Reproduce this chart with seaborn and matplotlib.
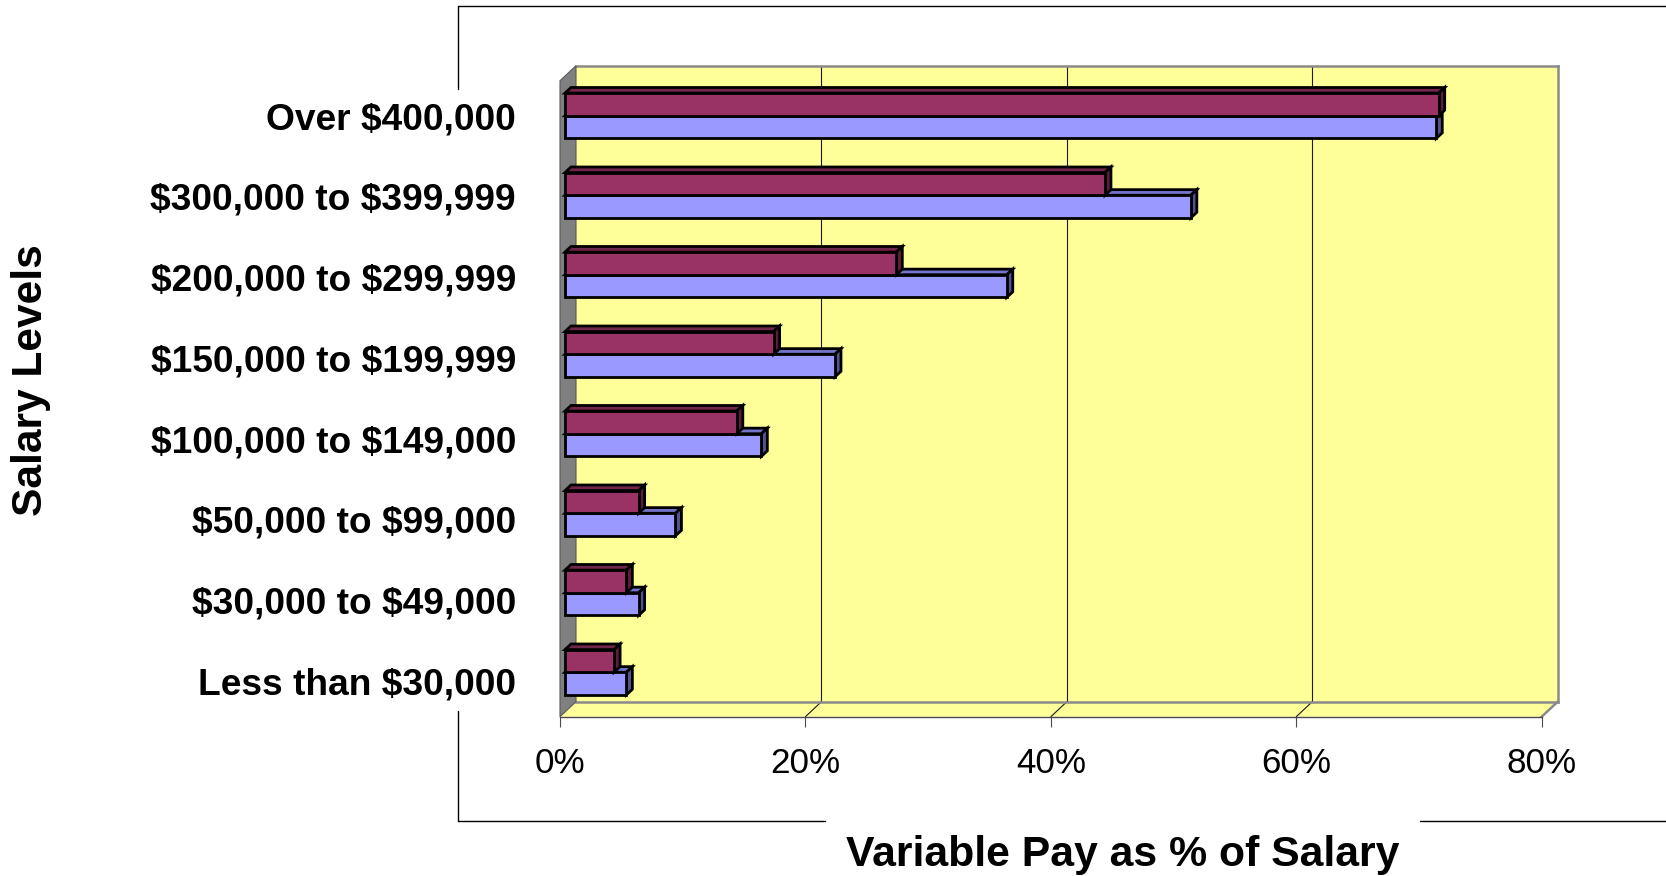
import numpy as np
import pandas as pd
import matplotlib
matplotlib.use("Agg")
import matplotlib.pyplot as plt
import matplotlib.transforms as mtransforms
from matplotlib.patches import Polygon, Rectangle
from matplotlib.lines import Line2D
import seaborn as sns

# ---- data ---------------------------------------------------------------
salary_levels = [
    "Over $400,000",
    "$300,000 to $399,999",
    "$200,000 to $299,999",
    "$150,000 to $199,999",
    "$100,000 to $149,000",
    "$50,000 to $99,000",
    "$30,000 to $49,000",
    "Less than $30,000",
]
series_names = ["Series 1", "Series 2"]
series_1 = [0.712, 0.44, 0.27, 0.17, 0.14, 0.06, 0.05, 0.04]
series_2 = [0.710, 0.51, 0.36, 0.22, 0.16, 0.09, 0.06, 0.05]
x_ticks = [0.0, 0.2, 0.4, 0.6, 0.8]
x_tick_labels = ["0%", "20%", "40%", "60%", "80%"]

# ---- styling ------------------------------------------------------------
front_colors = ["#993366", "#9999FF"]
top_colors = ["#72264B", "#7474CC"]
side_colors = ["#5C1E3D", "#53538F"]
WALL_YELLOW = "#FFFF99"
WALL_GRAY = "#808080"
EDGE_GRAY = "#8A8A8A"
BAR_LW = 2.0

sns.set_theme(style="white")
plt.rcParams["font.family"] = ["Liberation Sans", "DejaVu Sans"]
plt.rcParams["text.parse_math"] = False  # dollar signs are literal text

FIG_W, FIG_H = 1666, 876
DPI = 100
fig = plt.figure(figsize=(FIG_W / DPI, FIG_H / DPI), dpi=DPI)
fig.patch.set_facecolor("white")

# front plane of the 3-D box, in pixels
left_px, right_px = 560.0, 1541.7
top_px, bottom_px = 80.7, 716.7
ax = fig.add_axes([left_px / FIG_W, 1 - bottom_px / FIG_H,
                   (right_px - left_px) / FIG_W, (bottom_px - top_px) / FIG_H])
ax.patch.set_visible(False)

df = pd.DataFrame({
    "level": salary_levels * 2,
    "series": [s for s in series_names for _ in salary_levels],
    "value": series_1 + series_2,
})

sns.barplot(data=df, y="level", x="value", hue="series", order=salary_levels,
            hue_order=series_names, palette=front_colors, orient="h",
            width=0.57, dodge=True, legend=False, saturation=1,
            edgecolor="black", linewidth=BAR_LW, errorbar=None, ax=ax)
bars = list(ax.patches)

n = len(salary_levels)
x_lo, x_hi = 0.0, 0.8
y_top, y_bot = -0.5, n - 0.5
ax.set_xlim(x_lo, x_hi)
ax.set_ylim(y_bot, y_top)

# pixels per data unit
kx = (right_px - left_px) / (x_hi - x_lo)
ky = (bottom_px - top_px) / (y_bot - y_top)

def depth(dx_px, dy_px):
    """Image-pixel offset (y down) expressed in data units."""
    return dx_px / kx, dy_px / ky

wdx, wdy = depth(16, -15)      # wall / floor depth
bdx, bdy = depth(6, -5.6)      # bar depth

# ---- walls and floor ------------------------------------------------------
ax.add_patch(Rectangle((x_lo + wdx, y_top + wdy), x_hi - x_lo, y_bot - y_top,
                       facecolor=WALL_YELLOW, edgecolor="none", zorder=0.5,
                       clip_on=False))
ax.add_patch(Polygon([(x_lo, y_bot), (x_hi, y_bot), (x_hi + wdx, y_bot + wdy),
                      (x_lo + wdx, y_bot + wdy)], closed=True,
                     facecolor=WALL_YELLOW, edgecolor="none", zorder=0.6,
                     clip_on=False))
ax.add_patch(Polygon([(x_lo, y_top), (x_lo, y_bot), (x_lo + wdx, y_bot + wdy),
                      (x_lo + wdx, y_top + wdy)], closed=True,
                     facecolor=WALL_GRAY, edgecolor="#5a5a5a", linewidth=0.8,
                     zorder=1.2, clip_on=False))

# gridlines on back wall and floor
for g in x_ticks[1:-1]:
    ax.add_line(Line2D([g + wdx, g + wdx], [y_top + wdy, y_bot + wdy],
                       color="#1a1a1a", linewidth=0.8, zorder=0.8, clip_on=False))
    ax.add_line(Line2D([g, g + wdx], [y_bot, y_bot + wdy],
                       color="#1a1a1a", linewidth=0.8, zorder=0.8, clip_on=False))

# wall edges
edge_kw = dict(color=EDGE_GRAY, linewidth=1.8, zorder=1.0, clip_on=False,
               solid_capstyle="projecting")
ax.add_line(Line2D([x_lo + wdx, x_hi + wdx], [y_top + wdy, y_top + wdy], **edge_kw))
ax.add_line(Line2D([x_hi + wdx, x_hi + wdx], [y_top + wdy, y_bot + wdy], **edge_kw))
ax.add_line(Line2D([x_lo + wdx, x_hi + wdx], [y_bot + wdy, y_bot + wdy], **edge_kw))
ax.add_line(Line2D([x_hi, x_hi + wdx], [y_bot, y_bot + wdy], **edge_kw))

# ---- 3-D bars -------------------------------------------------------------
bar_trans = mtransforms.offset_copy(ax.transData, fig=fig, x=5, y=4.7,
                                    units="dots")
front_rgba = [matplotlib.colors.to_rgba(c) for c in front_colors]
for p in bars:
    fc = p.get_facecolor()
    k = int(np.argmin([np.sum(np.abs(np.array(fc) - np.array(c)))
                       for c in front_rgba]))
    # lower series sits behind the upper one
    z = 3.0 if k == 1 else 4.0
    x0, w = p.get_x(), p.get_width()
    yt, yb = p.get_y(), p.get_y() + p.get_height()
    x1 = x0 + w
    p.set_transform(bar_trans)
    p.set_zorder(z + 0.2)
    p.set_joinstyle("miter")
    face_kw = dict(closed=True, edgecolor="black", linewidth=BAR_LW,
                   transform=bar_trans, clip_on=False, joinstyle="miter")
    ax.add_patch(Polygon([(x0, yt), (x1, yt), (x1 + bdx, yt + bdy),
                          (x0 + bdx, yt + bdy)], facecolor=top_colors[k],
                         zorder=z, **face_kw))
    ax.add_patch(Polygon([(x1, yt), (x1, yb), (x1 + bdx, yb + bdy),
                          (x1 + bdx, yt + bdy)], facecolor=side_colors[k],
                         zorder=z + 0.1, **face_kw))
    p.set_clip_on(False)

# ---- axes, ticks and labels ---------------------------------------------
for side in ("left", "top", "right"):
    ax.spines[side].set_visible(False)
ax.spines["bottom"].set_color("#4a4a4a")
ax.spines["bottom"].set_linewidth(1.0)
ax.spines["bottom"].set_zorder(1.5)

ax.set_xticks(x_ticks, labels=x_tick_labels)
ax.tick_params(axis="x", bottom=True, direction="out", length=7.2, width=0.8,
               color="#4a4a4a", pad=14.8, labelsize=25.2, labelcolor="black")

label_pos = np.arange(n) * 1.0157 - 0.06
ax.set_yticks(label_pos, labels=salary_levels)
ax.tick_params(axis="y", left=False, length=0, pad=31.7, labelsize=26.7,
               labelcolor="black")
for t in ax.get_yticklabels():
    t.set_fontweight("bold")
    t.set_parse_math(False)

ax.set_xlabel("Variable Pay as % of Salary", fontsize=30.8, fontweight="bold",
              color="black", va="center", ha="center")
ax.xaxis.set_label_coords((1123 - left_px) / (right_px - left_px),
                          (bottom_px - 855) / (bottom_px - top_px))
ax.set_ylabel("Salary Levels", fontsize=30.6, fontweight="bold",
              color="black", va="center", ha="center")
ax.yaxis.set_label_coords((31 - left_px) / (right_px - left_px),
                          (bottom_px - 380) / (bottom_px - top_px))

# ---- outer chart-area frame ----------------------------------------------
def fpt(x, y):
    return x / FIG_W, 1 - y / FIG_H

frame_segments = [
    ((458, 5.5), (FIG_W, 5.5)),
    ((458, 5.5), (458, 88.6)),
    ((458, 711), (458, 820.7)),
    ((458, 820.7), (824.5, 820.7)),
    ((1420, 820.7), (FIG_W, 820.7)),
]
for a, b in frame_segments:
    (xa, ya), (xb, yb_) = fpt(*a), fpt(*b)
    fig.add_artist(Line2D([xa, xb], [ya, yb_], transform=fig.transFigure,
                          color="black", linewidth=1.0))

fig.savefig("out.png", dpi=DPI, facecolor="white")
